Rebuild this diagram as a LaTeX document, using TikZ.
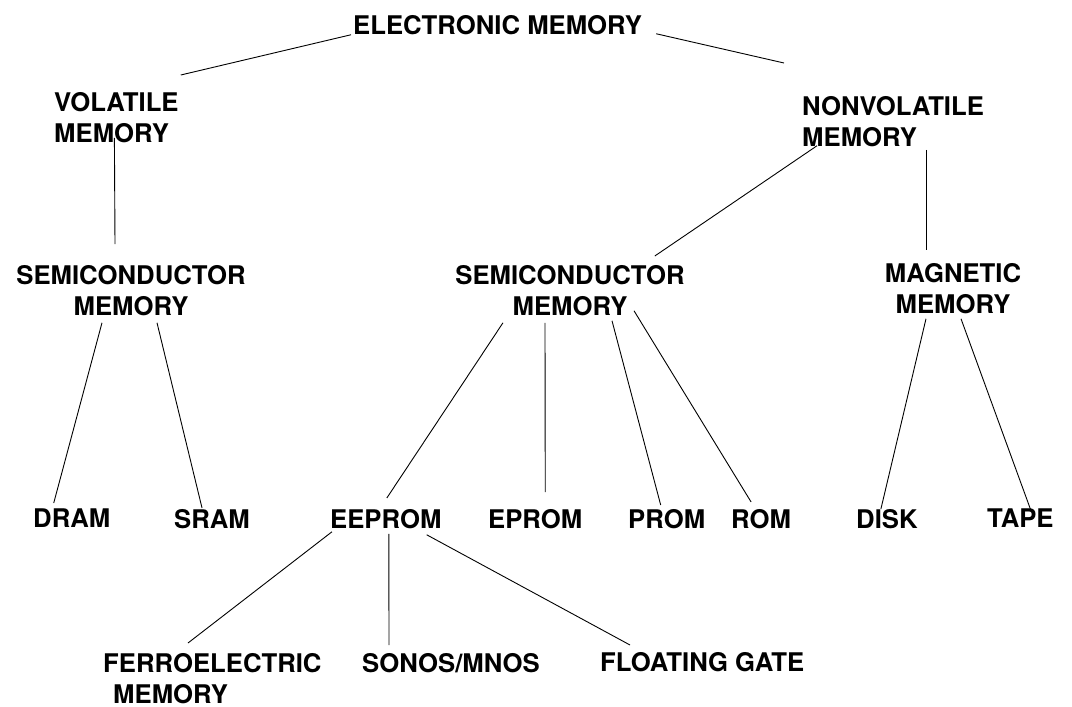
\documentclass[tikz,border=0pt]{standalone}
\usepackage{fontspec}
\setmainfont{TeX Gyre Heros}
\usetikzlibrary{calc}
\begin{document}
\begin{tikzpicture}[x=1pt, y=-1pt, line join=round,
  lbl/.style={font=\fontsize{25.7}{31}\selectfont\bfseries, inner sep=0pt, anchor=north west},
  link/.style={line width=0.9pt}]
  \useasboundingbox[fill=white] (0,0) rectangle (1072,707);
  \node[lbl] (elec) at (353,15) {ELECTRONIC MEMORY};
  \node[lbl, align=left] (vol) at (54,92) {VOLATILE\\MEMORY};
  \node[lbl, align=left] (nonvol) at (802,96) {NONVOLATILE\\MEMORY};
  \node[lbl, align=center, anchor=north] (semiA) at (131,265) {SEMICONDUCTOR\\MEMORY};
  \node[lbl, align=center, anchor=north] (semiB) at (570,265) {SEMICONDUCTOR\\MEMORY};
  \node[lbl, align=center, anchor=north] (magn) at (953,263) {MAGNETIC\\MEMORY};
  \node[lbl] (dram) at (33,509) {DRAM};
  \node[lbl] (sram) at (174,509) {SRAM};
  \node[lbl] (eeprom) at (330,509) {EEPROM};
  \node[lbl] (eprom) at (488,509) {EPROM};
  \node[lbl] (prom) at (628,509) {PROM};
  \node[lbl] (rom) at (731,509) {ROM};
  \node[lbl] (disk) at (856,509) {DISK};
  \node[lbl] (tape) at (987,509) {TAPE};
  \node[lbl, align=left] (ferro) at (103,653) {FERROELECTRIC\\\hspace*{10pt}MEMORY};
  \node[lbl] (sonos) at (362,653) {SONOS/MNOS};
  \node[lbl] (float) at (600,652) {FLOATING GATE};

  \draw[link] ($(elec.south west)+(-2,0)$) -- ($(vol.north east)+(2,-17)$);
  \draw[link] ($(elec.south east)+(14,-1)$) -- ($(nonvol.north west)+(-18,-33)$);
  \draw[link] ($(vol.south)+(-2,-5)$) -- ($(semiA.north)+(-16,-21)$);
  \draw[link] ($(nonvol.south west)+(15,-1)$) -- ($(semiB.north east)+(-30,-9)$);
  \draw[link] ($(nonvol.south west)+(124,3)$) -- ($(magn.north)+(-27,-13)$);
  \draw[link] ($(semiA.south)+(-29,7)$) -- ($(dram.north)+(-18,-6)$);
  \draw[link] ($(semiA.south)+(26,7)$) -- ($(sram.north)+(-10,-1)$);
  \draw[link] ($(semiB.south)+(-67,7)$) -- ($(eeprom.north)+(1,-11)$);
  \draw[link] ($(semiB.south)+(-25,7)$) -- ($(eprom.north)+(10,-17)$);
  \draw[link] ($(semiB.south)+(42,5)$) -- ($(prom.north)+(-6,-4)$);
  \draw[link] ($(semiB.south)+(64,-5)$) -- ($(rom.north)+(-10,-7)$);
  \draw[link] ($(magn.south)+(-27,5)$) -- ($(disk.north)+(-6,0)$);
  \draw[link] ($(magn.south)+(8,5)$) -- ($(tape.north)+(10,0)$);
  \draw[link] ($(eeprom.south west)+(2,3)$) -- ($(ferro.north west)+(85,-10)$);
  \draw[link] ($(eeprom.south)+(3,5)$) -- ($(sonos.north west)+(27,-8)$);
  \draw[link] ($(eeprom.south east)+(-15,6)$) -- ($(float.north west)+(30,-7)$);
\end{tikzpicture}
\end{document}
